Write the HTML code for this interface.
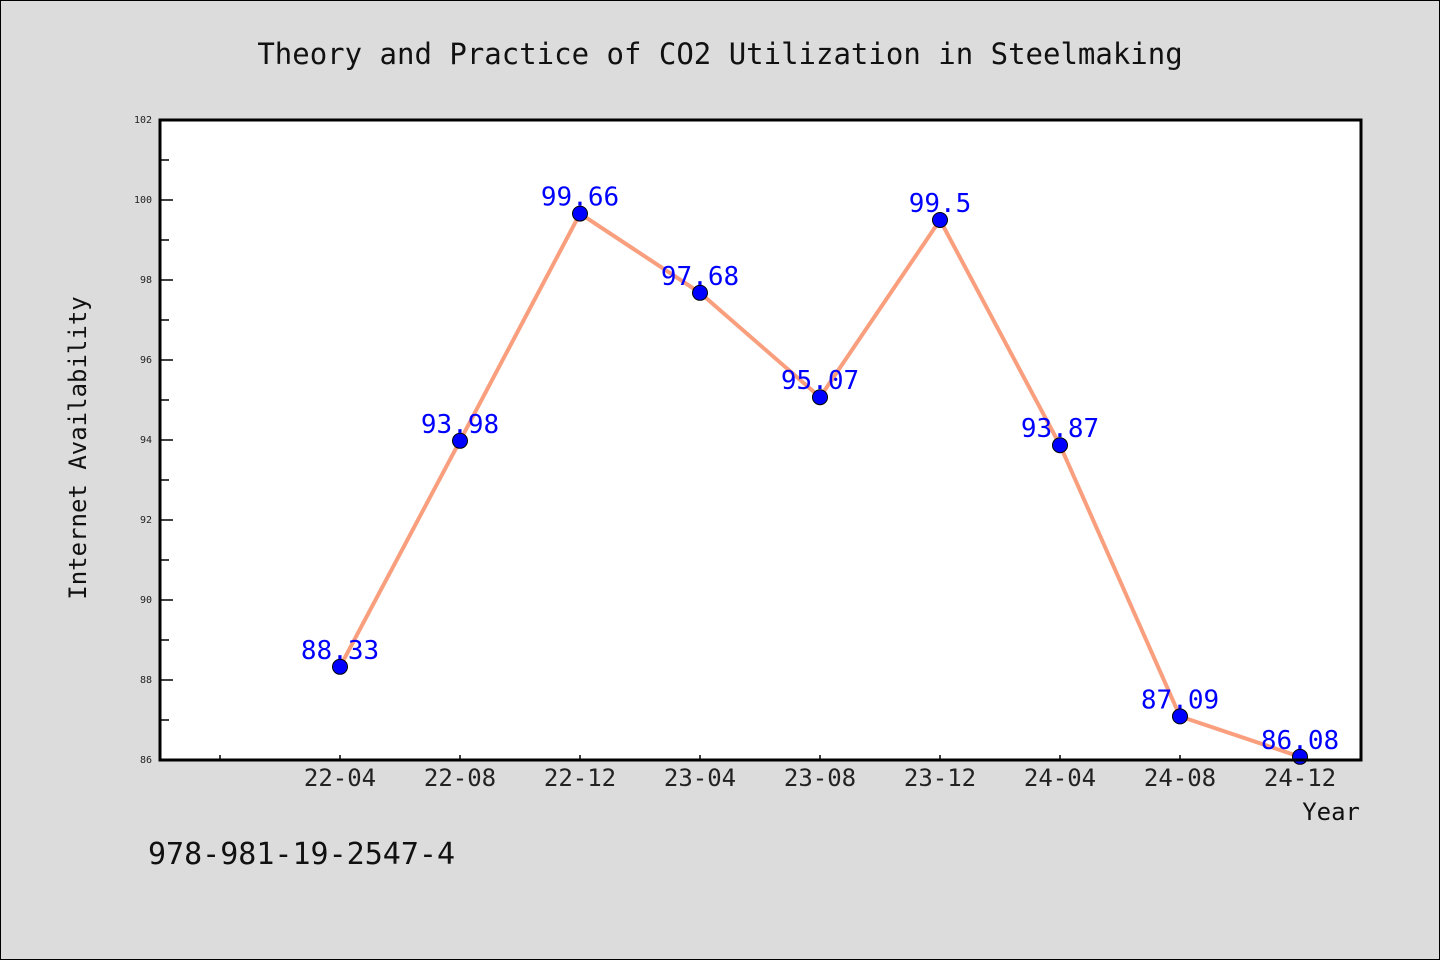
<!DOCTYPE html>
<html><head><meta charset="utf-8"><style>
body{margin:0;background:#dcdcdc;}
svg{display:block;font-family:"DejaVu Sans Mono","Liberation Mono",monospace;}
</style></head><body>
<svg id="chart" width="1440" height="960">
<rect x="0.5" y="0.5" width="1439" height="959" fill="#dcdcdc" stroke="#000"/>
<text x="720" y="64" text-anchor="middle" font-size="29" fill="#111">Theory and Practice of CO2 Utilization in Steelmaking</text>
<rect x="160" y="120" width="1201" height="640" fill="#fff"/>
<g id="yaxis"></g>
<g id="xaxis"></g>
<g id="series"></g>
<rect x="160" y="120" width="1201" height="640" fill="none" stroke="#000" stroke-width="3"/>
<text x="86" y="448" transform="rotate(-90 86 448)" text-anchor="middle" font-size="24" fill="#111">Internet Availability</text>
<text x="1360" y="820" text-anchor="end" font-size="24" fill="#111">Year</text>
<text x="148" y="864" font-size="30" fill="#111">978-981-19-2547-4</text>
</svg>
<script>
const categories=["22-04","22-08","22-12","23-04","23-08","23-12","24-04","24-08","24-12"];
const values=[88.33,93.98,99.66,97.68,95.07,99.5,93.87,87.09,86.08];
const yTicks=[86,88,90,92,94,96,98,100,102];
const NS="http://www.w3.org/2000/svg";
const y=v=>760-(v-86)*40;
const x=i=>340+120*i;
function mk(tag,attrs,parent){const e=document.createElementNS(NS,tag);for(const k in attrs)e.setAttribute(k,attrs[k]);parent.appendChild(e);return e;}
const ya=document.getElementById('yaxis'),xa=document.getElementById('xaxis'),se=document.getElementById('series');
yTicks.forEach((t,k)=>{
 const l=mk('line',{x1:160,x2:173,y1:y(t),y2:y(t),stroke:'#000','stroke-width':1.5},ya);
 
 
 const tx=mk('text',{x:152,y:y(t)+3,'text-anchor':'end','font-size':10,fill:'#222'},ya);
 
 
 tx.textContent=t;
 if(k<yTicks.length-1){
  const m=mk('line',{x1:160,x2:169,y1:y(t+1),y2:y(t+1),stroke:'#000','stroke-width':1.5},ya);
  
  
 }
});
const t0=mk('line',{x1:x(-1),x2:x(-1),y1:760,y2:755,stroke:'#000','stroke-width':1.5},xa);


categories.forEach((c,i)=>{
 const l=mk('line',{x1:x(i),x2:x(i),y1:760,y2:755,stroke:'#000','stroke-width':1.5},xa);
 
 
 const tx=mk('text',{x:x(i),y:786,'text-anchor':'middle','font-size':24,fill:'#222'},xa);
 
 
 tx.textContent=c;
});
const line=mk('polyline',{points:values.map((v,i)=>x(i)+','+y(v)).join(' '),fill:'none',stroke:'#fa9f7e','stroke-width':4,'stroke-linejoin':'round'},se);


values.forEach((v,i)=>{
 const p=mk('circle',{cx:x(i),cy:y(v),r:7.5,fill:'#0000ff',stroke:'#000','stroke-width':1},se);
 
 
 const tx=mk('text',{x:x(i),y:y(v)-8,'text-anchor':'middle','font-size':26,fill:'#0000ff'},se);
 
 
 tx.textContent=v;
});
</script>
</body></html>
